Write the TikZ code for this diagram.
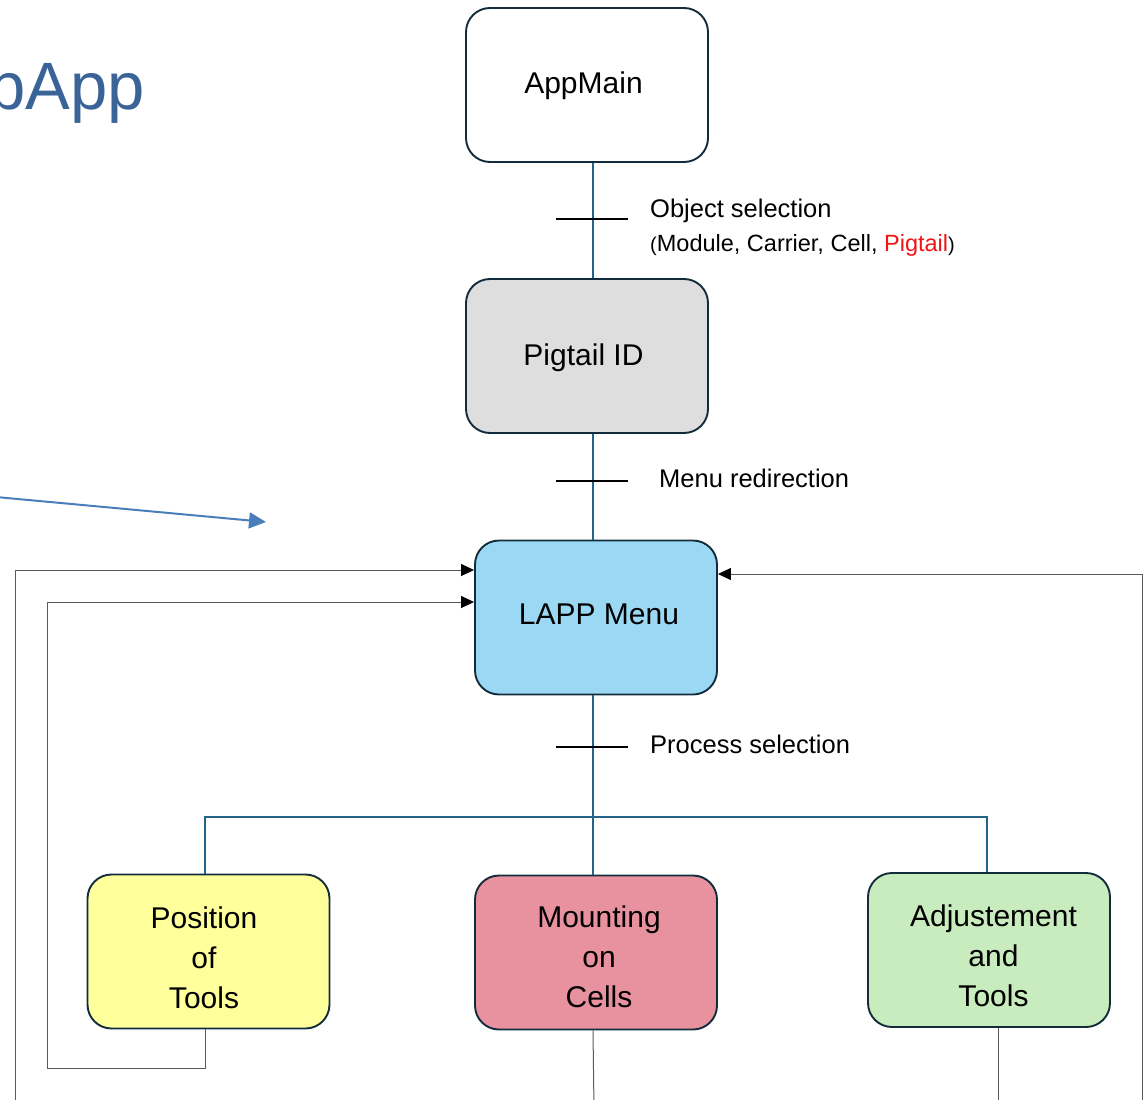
\documentclass[tikz,border=0pt]{standalone}
\usepackage{fontspec}
\setmainfont{Liberation Sans}
\usetikzlibrary{arrows.meta,calc}

\definecolor{boxline}{RGB}{18,44,60}
\definecolor{linkc}{RGB}{36,100,136}
\definecolor{graybox}{RGB}{222,222,222}
\definecolor{bluebox}{RGB}{154,216,244}
\definecolor{yelbox}{RGB}{255,255,156}
\definecolor{pinkbox}{RGB}{232,145,159}
\definecolor{greenbox}{RGB}{201,236,190}
\definecolor{backc}{RGB}{90,90,90}
\definecolor{titleblue}{RGB}{58,100,151}
\definecolor{pointer}{RGB}{74,126,187}
\definecolor{redtxt}{RGB}{240,20,20}

\begin{document}
\begin{tikzpicture}[x=1pt,y=-1pt,
  box/.style={draw=boxline, line width=1.9pt, rounded corners=24pt,
    minimum width=242pt, minimum height=154pt, inner sep=0pt},
  boxtext/.style={inner sep=0pt, align=center, font=\fontsize{30}{40}\selectfont},
  link/.style={draw=linkc, line width=2.3pt},
  tickmark/.style={draw=black, line width=2.4pt},
  back/.style={draw=backc, line width=1pt},
  backarrow/.style={back, -{Triangle[length=13pt,width=12pt,color=black]}},
  lab/.style={anchor=west, inner sep=0pt, font=\fontsize{25.5}{30}\selectfont},
]
\useasboundingbox (0,0) rectangle (1147,1099);
\clip (0,0) rectangle (1147,1099);

% title fragment and pointer arrow
\node[anchor=base east, inner sep=0pt, text=titleblue,
  font=\fontsize{67}{80}\selectfont] (title) at (145,110) {bApp};
\coordinate (pstart) at (-4,497);
\coordinate (pend) at (266,522);
\draw[pointer, line width=2pt, -{Triangle[length=17pt,width=16pt]}] (pstart) -- (pend);

% boxes
\node[box] (main) at (587,85) {};
\node[box, fill=graybox] (pig) at (587,356) {};
\node[box, fill=bluebox] (lapp) at (596,617.5) {};
\node[box, fill=yelbox] (pos) at (208.5,951.5) {};
\node[box, fill=pinkbox] (mount) at (596,952.5) {};
\node[box, fill=greenbox] (adj) at (989,950) {};

% box captions
\node[boxtext] (mainT) at ($(main)+(-3.5,1)$) {AppMain};
\node[boxtext] (pigT) at ($(pig)+(-3.5,2)$) {Pigtail ID};
\node[boxtext] (lappT) at ($(lapp)+(3,-3)$) {LAPP Menu};
\node[boxtext] (posT) at ($(pos)+(-4.5,6.5)$) {Position\\of\\Tools};
\node[boxtext] (mountT) at ($(mount)+(3,4.5)$) {Mounting\\on\\Cells};
\node[boxtext] (adjT) at ($(adj)+(4.5,6)$) {Adjustement\\and\\Tools};

% main spine and process bus
\coordinate (sx) at (593,0);
\coordinate (px) at (205,0);
\coordinate (ax) at (987,0);
\coordinate (bus) at (0,817);
\draw[link] (main.south -| sx) -- (pig.north -| sx);
\draw[link] (pig.south -| sx) -- (lapp.north -| sx);
\draw[link] (lapp.south -| sx) -- (mount.north -| sx);
\draw[link] (pos.north -| px) -- (bus -| px) -- (bus -| ax) -- (adj.north -| ax);

% cross marks on the spine
\draw[tickmark] (556,219) -- (628,219);
\draw[tickmark] (556,481) -- (628,481);
\draw[tickmark] (556,747) -- (628,747);

% spine labels
\node[lab] (l1) at (650,211) {Object selection};
\node[lab, font=\fontsize{23.5}{28}\selectfont] (l2) at (650,245)
  {{\fontsize{20}{24}\selectfont(}Module, Carrier, Cell, \textcolor{redtxt}{Pigtail}{\fontsize{20}{24}\selectfont)}};
\node[lab] (l3) at (659,478) {Menu redirection};
\node[lab] (l4) at (650,744) {Process selection};

% return paths to the menu
\coordinate (r0) at (0,570);
\coordinate (r1) at (0,602);
\coordinate (r2) at (0,574);
\coordinate (posdn) at (205,1068);
\coordinate (innerx) at (47,1068);
\coordinate (outerlo) at (15,1110);
\coordinate (rightlo) at (1142,1110);
\coordinate (mountlo) at (594,1110);
\coordinate (adjlo) at (998,1110);

\draw[backarrow] (pos.south -| px) -- (posdn) -- (innerx) -- (innerx |- r1) -- (lapp.west |- r1);
\draw[backarrow] (outerlo) -- (outerlo |- r0) -- (lapp.west |- r0);
\draw[backarrow] (rightlo) -- (rightlo |- r2) -- (lapp.east |- r2);
\draw[back] (mount.south -| sx) -- (mountlo);
\draw[back] (adj.south -| adjlo) -- (adjlo);
\end{tikzpicture}
\end{document}
